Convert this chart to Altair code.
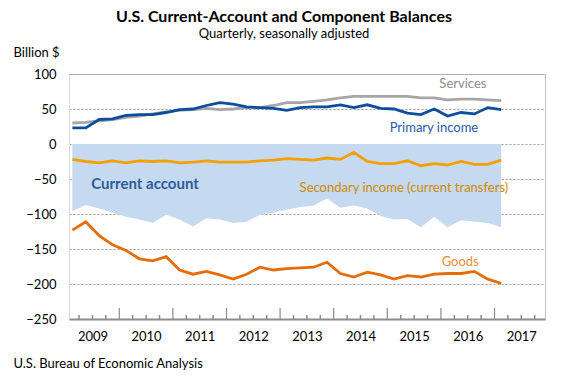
import altair as alt
import pandas as pd

quarters = [f"{y}Q{q}" for y in range(2009, 2018) for q in range(1, 5)][:33]
goods = [-123, -111, -131, -144, -152, -164, -167, -161, -180, -186, -182, -187, -193, -186, -176, -180,
         -178, -177, -176, -169, -185, -190, -183, -187, -193, -188, -190, -186, -185, -185, -182, -193, -199]
services = [30, 31, 33, 35, 38, 40, 43, 46, 48, 49, 51, 49, 50, 52, 52, 55,
            59, 59, 61, 63, 66, 68, 68, 68, 68, 68, 66, 66, 63, 64, 64, 63, 62]
primary = [23, 23, 35, 36, 41, 42, 42, 45, 49, 50, 55, 59, 57, 53, 52, 51,
           48, 52, 53, 53, 56, 52, 56, 51, 50, 44, 42, 50, 40, 45, 43, 52, 49]
secondary = [-22, -25, -27, -24, -27, -24, -25, -24, -27, -26, -24, -26, -26, -26, -24, -23,
             -21, -22, -23, -20, -22, -12, -25, -28, -28, -24, -31, -28, -30, -25, -29, -29, -23]
current = [-96, -87, -92, -98, -104, -108, -113, -101, -108, -118, -106, -108, -113, -111, -101, -98,
           -94, -90, -88, -78, -91, -88, -92, -103, -108, -107, -119, -104, -119, -109, -111, -113, -119]

years = list(range(2009, 2018))
y_ticks = [100, 50, 0, -50, -100, -150, -200, -250]

series_names = ["Services", "Primary income", "Secondary income", "Goods"]
series_colors = ["#a6a6a6", "#0b4f9c", "#f5a000", "#e46c0a"]

ann_labels = ["Services", "Primary income", "Secondary income (current transfers)", "Goods"]
ann_t = [2016.41, 2015.87, 2015.31, 2016.36]
ann_v = [85.5, 23, -63, -169]
ann_colors = ["#8c8c8c", "#1f5aa6", "#d08a00", "#f08a3c"]

FONT = "Lato"

t_vals = [int(q[:4]) + (int(q[-1]) - 1) * 0.25 + 0.125 for q in quarters]
base_df = pd.DataFrame({"quarter": quarters, "t": t_vals, "v": current})

rows = []
for name, vals in zip(series_names, [services, primary, secondary, goods]):
    for q, t, val in zip(quarters, t_vals, vals):
        rows.append({"series": name, "quarter": q, "t": t, "v": val})
lines_df = pd.DataFrame(rows)

ann_df = pd.DataFrame({"label": ann_labels, "t": ann_t, "v": ann_v, "color": ann_colors})
ca_df = pd.DataFrame({"label": ["Current account"], "t": [2010.48], "v": [-57]})

quarter_bounds = [y + q * 0.25 for y in years for q in range(1, 4)]
year_bounds = [y for y in years[1:]]
qt_df = pd.DataFrame({"t": quarter_bounds})
yt_df = pd.DataFrame({"t": year_bounds})

xscale = alt.Scale(domain=[2009.062, 2017.942], nice=False, zero=False)
yscale = alt.Scale(domain=[-250, 100], nice=False, zero=False)

x_axis = alt.Axis(values=[y + 0.5 for y in years], labelExpr="floor(datum.value)", ticks=False,
                  grid=False, domainColor="#8c8c8c", domainWidth=2, labelFontSize=13, labelPadding=11,
                  labelColor="black", labelFont=FONT, labelOverlap=False, labelFlush=False,
                  title="U.S. Bureau of Economic Analysis", titleX=-56, titleY=44, titleAlign="left",
                  titleBaseline="middle", titleFontWeight="normal", titleFontSize=13, titleFont=FONT,
                  titleColor="black", titleAnchor="start")
y_axis = alt.Axis(values=y_ticks, grid=True, gridDash=[2, 2], gridColor="#9a9a9a", ticks=False,
                  domainColor="#d9d9d9", labelFontSize=13, labelPadding=13, labelColor="black",
                  labelFont=FONT, labelOverlap=False, labelFlush=False,
                  title="Billion $", titleAngle=0, titleAlign="left", titleX=-56,
                  titleY=-22, titleBaseline="middle", titleFontWeight="normal", titleFontSize=13,
                  titleFont=FONT, titleColor="black")

area = alt.Chart(base_df).mark_area(color="#c5d9f1", opacity=1).encode(
    y2=alt.datum(0),
)

lines = alt.Chart(lines_df).mark_line(strokeWidth=2.8).encode(
    color=alt.Color("series:N", scale=alt.Scale(domain=series_names, range=series_colors), legend=None),
    detail="series:N",
)

ann = alt.Chart(ann_df).mark_text(font=FONT, fontSize=13).encode(
    text="label:N",
    color=alt.Color("color:N", scale=None),
)

ca_text = alt.Chart(ca_df).mark_text(font=FONT, fontSize=15, fontWeight="bold", color="#2f5d9a").encode(
    text="label:N",
)

qticks = alt.Chart(qt_df).mark_rule(color="#8c8c8c", strokeWidth=1.5).encode(
    y=alt.value(245), y2=alt.value(241))
yticks = alt.Chart(yt_df).mark_rule(color="#8c8c8c", strokeWidth=1.2).encode(
    y=alt.value(245), y2=alt.value(234))

chart = alt.layer(area, qticks, yticks, lines, ann, ca_text).encode(
    x=alt.X("t:Q", scale=xscale, axis=x_axis),
    y=alt.Y("v:Q", scale=yscale, axis=y_axis),
).properties(
    width=476, height=245,
    autosize=alt.AutoSizeParams(type="none"),
    padding={"left": 61, "top": 66, "right": 9, "bottom": 52},
    title=alt.TitleParams(text="U.S. Current-Account and Component Balances",
                          subtitle="Quarterly, seasonally adjusted", anchor="middle", dx=-23,
                          fontSize=16, font=FONT, fontWeight="bold", color="black",
                          subtitleFont=FONT, subtitleFontSize=13, subtitleColor="black",
                          subtitlePadding=3, offset=5),
).configure_view(stroke="#bfbfbf", strokeWidth=1).configure_axis(labelOverlap=False)

chart.save("out.html", embed_options={"renderer": "svg", "actions": False})
